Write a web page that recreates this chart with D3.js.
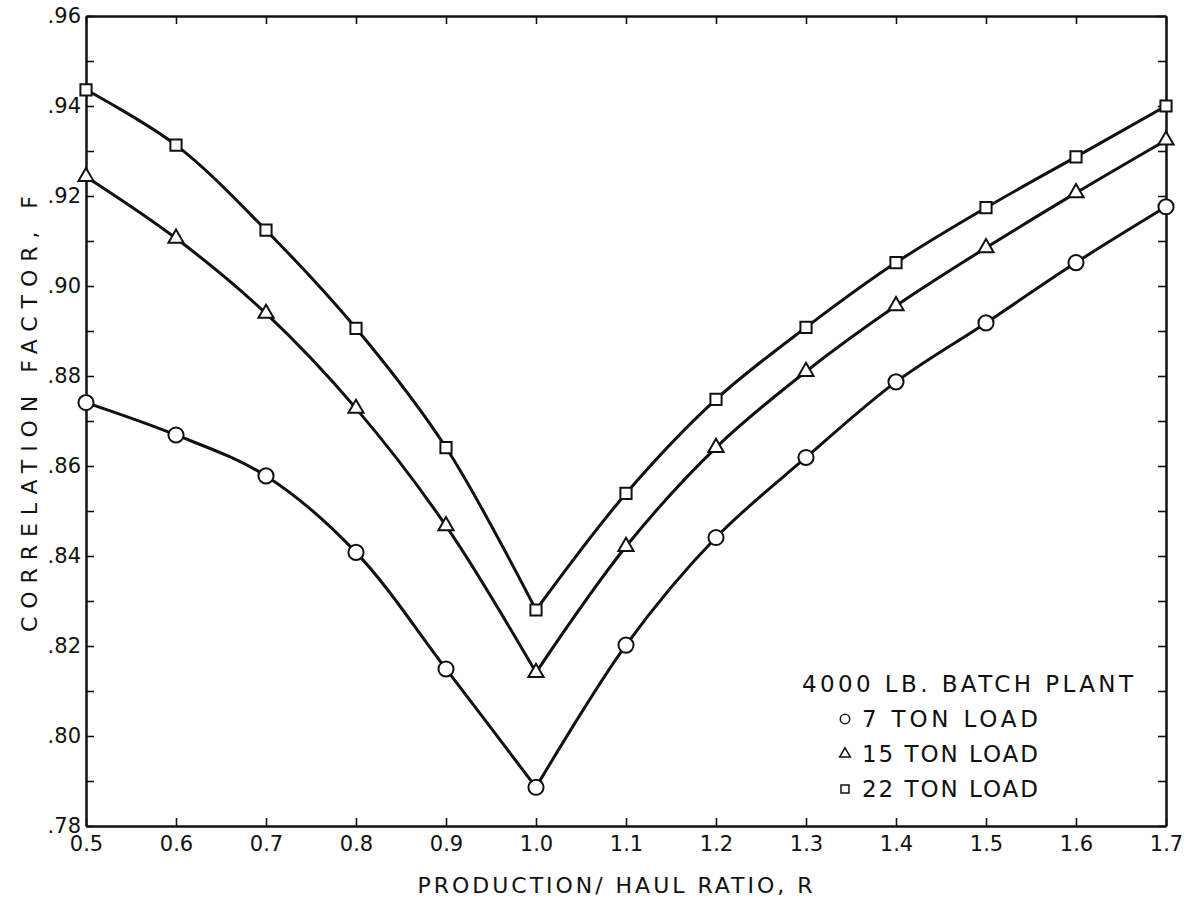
<!DOCTYPE html>
<html>
<head>
<meta charset="utf-8">
<script src="https://cdn.jsdelivr.net/npm/d3@7"></script>
<style>
    html, body { margin: 0; padding: 0; background: #fff; }
    svg text { font-family: "DejaVu Sans", sans-serif; fill: #111; }
</style>
</head>
<body>
<div id="chart"></div>
<script>
// production / haul ratio on x
var ratios = [0.5, 0.6, 0.7, 0.8, 0.9, 1.0, 1.1, 1.2, 1.3, 1.4, 1.5, 1.6, 1.7];
// correlation factor F for each truck load
var load7  = [0.8741, 0.8669, 0.8578, 0.8408, 0.8149, 0.7886, 0.8202, 0.8441, 0.8619, 0.8787, 0.8918, 0.9052, 0.9176];
var load15 = [0.9243, 0.9106, 0.8939, 0.8728, 0.8467, 0.8141, 0.8421, 0.8641, 0.8810, 0.8956, 0.9085, 0.9207, 0.9324];
var load22 = [0.9436, 0.9313, 0.9124, 0.8906, 0.8641, 0.8280, 0.8539, 0.8748, 0.8908, 0.9052, 0.9174, 0.9287, 0.9400];
var seriesNames = ["7 TON LOAD", "15 TON LOAD", "22 TON LOAD"];
var legendTitle = "4000 LB. BATCH PLANT";
var xTitle = "PRODUCTION/ HAUL RATIO, R";
var yTitle = "CORRELATION FACTOR, F";
var yTicks = d3.range(78, 97).map(function(v){ return v/100; });

var width = 1185, height = 901;
var margin = {left: 86, right: 19, top: 16, bottom: 75};

var svg = d3.select("#chart").append("svg").attr("width", width).attr("height", height);

var x = d3.scaleLinear().domain([0.5, 1.7]).range([margin.left, width-margin.right]);
var y = d3.scaleLinear().domain([0.78, 0.96]).range([height-margin.bottom, margin.top]);

var series = [
    {name: seriesNames[0], values: load7,  symbol: d3.symbolCircle,   size: 180, legendSize: 70},
    {name: seriesNames[1], values: load15, symbol: d3.symbolTriangle, size: 100, legendSize: 50},
    {name: seriesNames[2], values: load22, symbol: d3.symbolSquare,   size: 125, legendSize: 64}
];

// axes - ticks point inward on all four sides
var yLabel = function(d){
    var k = Math.round(d*100);
    return (k%2===0) ? d3.format(".2f")(d).replace(/^0/, "") : "";
};
var axes = svg.append("g").attr("class", "axes");
axes.append("g").attr("transform", "translate("+margin.left+",0)")
    .call(d3.axisLeft(y).tickValues(yTicks).tickSize(-8).tickSizeOuter(0).tickPadding(5).tickFormat(yLabel));
axes.append("g").attr("transform", "translate("+(width-margin.right)+",0)")
    .call(d3.axisRight(y).tickValues(yTicks).tickSize(-8).tickSizeOuter(0).tickFormat(""));
axes.append("g").attr("transform", "translate(0,"+(height-margin.bottom)+")")
    .call(d3.axisBottom(x).tickValues(ratios).tickSize(-8).tickSizeOuter(0).tickPadding(10).tickFormat(d3.format(".1f")));
axes.append("g").attr("transform", "translate(0,"+margin.top+")")
    .call(d3.axisTop(x).tickValues(ratios).tickSize(-8).tickSizeOuter(0).tickFormat(""));

axes.selectAll(".domain").attr("stroke", "#111").attr("stroke-width", 2.5);
axes.selectAll(".tick line").attr("stroke", "#111").attr("stroke-width", 1.6);
axes.selectAll(".tick text").attr("font-size", 21).attr("font-family", "DejaVu Sans, sans-serif").attr("fill", "#111");

// curves: two smooth branches meeting in a sharp V at R = 1.0
var line = d3.line()
    .x(function(d){ return x(d[0]); })
    .y(function(d){ return y(d[1]); })
    .curve(d3.curveCatmullRom.alpha(0.5));

var plot = svg.append("g").attr("class", "plot");
series.forEach(function(s){
    var pts = ratios.map(function(r, i){ return [r, s.values[i]]; });
    var left = pts.filter(function(p){ return p[0] <= 1.0; });
    var right = pts.filter(function(p){ return p[0] >= 1.0; });
    [left, right].forEach(function(branch){
        plot.append("path").attr("d", line(branch))
            .attr("fill", "none").attr("stroke", "#111").attr("stroke-width", 3);
    });
    plot.selectAll(null).data(pts).enter().append("path")
        .attr("transform", function(d){ return "translate("+x(d[0])+","+y(d[1])+")"; })
        .attr("d", d3.symbol().type(s.symbol).size(s.size))
        .attr("fill", "#fff").attr("stroke", "#111").attr("stroke-width", 2);
});

// legend
var legend = svg.append("g").attr("class", "legend");
legend.append("text").attr("x", 802).attr("y", 692)
    .attr("font-size", 23).attr("textLength", 331).attr("lengthAdjust", "spacing").text(legendTitle);
series.forEach(function(s, i){
    var ly = 727 + i*35;
    legend.append("path").attr("transform", "translate(845,"+(ly-8)+")")
        .attr("d", d3.symbol().type(s.symbol).size(s.legendSize))
        .attr("fill", "#fff").attr("stroke", "#111").attr("stroke-width", 1.5);
    legend.append("text").attr("x", 862).attr("y", ly)
        .attr("font-size", 23).attr("textLength", 176).attr("lengthAdjust", "spacing").text(s.name);
});

// axis titles
svg.append("text").attr("x", 615).attr("y", 893)
    .attr("text-anchor", "middle").attr("font-size", 22)
    .attr("textLength", 395).attr("lengthAdjust", "spacing").text(xTitle);
svg.append("text").attr("transform", "translate(37,414) rotate(-90)")
    .attr("text-anchor", "middle").attr("font-size", 22)
    .attr("textLength", 436).attr("lengthAdjust", "spacing").text(yTitle);
</script>
</body>
</html>
